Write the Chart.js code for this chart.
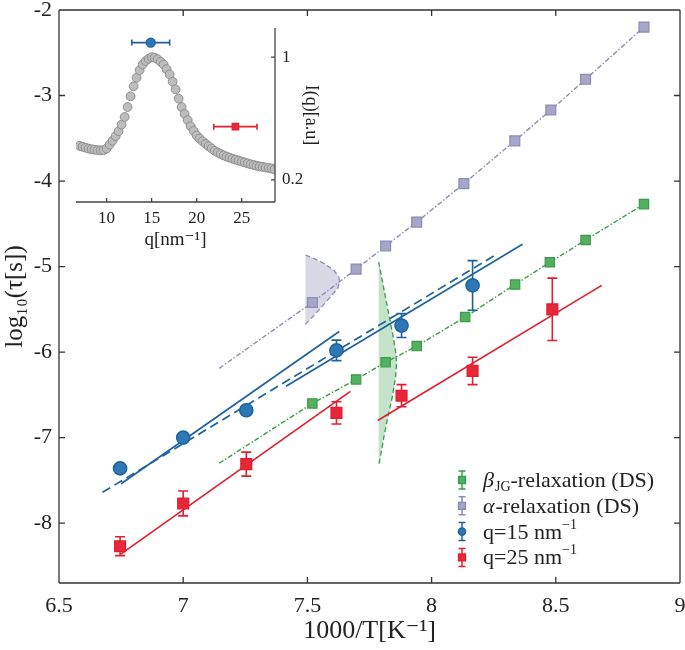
<!DOCTYPE html>
<html>
<head>
<meta charset="utf-8">
<script src="https://cdn.jsdelivr.net/npm/chart.js@4.4.1/dist/chart.umd.min.js"></script>
<style>
  html, body { margin: 0; padding: 0; background: #fff; }
  #wrap { position: relative; width: 685px; height: 650px; }
  #mainChart { position: absolute; left: 0; top: 0; }
  #insetChart { position: absolute; left: 60px; top: 10px; }
</style>
</head>
<body>
<div id="wrap">
  <canvas id="mainChart" width="685" height="650"></canvas>
  <canvas id="insetChart" width="270" height="245"></canvas>
</div>
<script>
// ---- main panel data ----
const xTicks = [6.5, 7, 7.5, 8, 8.5, 9];
const yTicks = [-8, -7, -6, -5, -4, -3, -2];

const q15X = [6.746, 7.0, 7.254, 7.617, 7.879, 8.165];
const q15Y = [-7.36, -7.00, -6.68, -5.98, -5.69, -5.22];
const q15Err = [0, 0, 0, 0.12, 0.14, 0.29];

const q25X = [6.746, 7.0, 7.254, 7.617, 7.879, 8.165, 8.486];
const q25Y = [-8.27, -7.77, -7.31, -6.71, -6.51, -6.22, -5.50];
const q25Err = [0.11, 0.145, 0.14, 0.13, 0.13, 0.16, 0.365];

const alphaX = [7.52, 7.696, 7.815, 7.94, 8.13, 8.335, 8.48, 8.62, 8.855];
const alphaY = [-5.42, -5.03, -4.76, -4.48, -4.03, -3.53, -3.17, -2.81, -2.20];
const betaX = [7.52, 7.696, 7.815, 7.94, 8.135, 8.336, 8.476, 8.62, 8.855];
const betaY = [-6.60, -6.32, -6.12, -5.93, -5.59, -5.21, -4.95, -4.69, -4.27];

// where the dash-dot guides start (below the first DS point)
const alphaGuideX = [7.145, 7.52];
const alphaGuideY = [-6.19, -5.42];
const betaGuideX = [7.145, 7.52];
const betaGuideY = [-7.30, -6.60];

// straight fits
const q15FitAX = [6.75, 7.628], q15FitAY = [-7.54, -5.76];
const q15FitBX = [7.414, 8.366], q15FitBY = [-6.40, -4.74];
const q15DashX = [6.675, 8.265], q15DashY = [-7.64, -4.85];
const q25FitAX = [6.75, 7.673], q25FitAY = [-8.36, -6.46];
const q25FitBX = [7.783, 8.685], q25FitBY = [-6.80, -5.22];

// shaded distributions
const alphaDistX = [7.492, 7.525, 7.566, 7.606, 7.626, 7.630, 7.622, 7.593, 7.552, 7.519, 7.492];
const alphaDistY = [-4.865, -4.904, -4.963, -5.041, -5.119, -5.178, -5.255, -5.353, -5.489, -5.594, -5.676];
const betaDistX = [7.787, 7.801, 7.819, 7.835, 7.848, 7.856, 7.859, 7.855, 7.842, 7.824, 7.808, 7.794, 7.787];
const betaDistY = [-4.944, -5.158, -5.431, -5.665, -5.860, -6.015, -6.132, -6.289, -6.523, -6.757, -6.991, -7.225, -7.322];

// ---- inset data ----
const insetQTicks = [10, 15, 20, 25];
const insetITicks = [0.2, 1];
const insetQ = [7.0, 7.33, 7.66, 8.0, 8.33, 8.66, 9.0, 9.33, 9.66, 10.0, 10.33, 10.66, 11.0, 11.33, 11.66,
  12.0, 12.33, 12.66, 13.0, 13.33, 13.66, 14.0, 14.33, 14.66, 15.0, 15.33, 15.66, 16.0, 16.33, 16.66,
  17.0, 17.33, 17.66, 18.0, 18.33, 18.66, 19.0, 19.33, 19.66, 20.0, 20.33, 20.66, 21.0, 21.33, 21.66,
  22.0, 22.33, 22.66, 23.0, 23.33, 23.66, 24.0, 24.33, 24.66, 25.0, 25.33, 25.66, 26.0, 26.33, 26.66,
  27.0, 27.33, 27.66, 28.0, 28.33, 28.66];
const insetI = [0.422, 0.416, 0.41, 0.404, 0.400, 0.397, 0.394, 0.393, 0.394, 0.405, 0.43, 0.455, 0.485, 0.517, 0.56,
  0.61, 0.675, 0.745, 0.81, 0.865, 0.915, 0.952, 0.975, 0.99, 1.0, 0.997, 0.987, 0.97, 0.952, 0.922,
  0.888, 0.84, 0.79, 0.73, 0.675, 0.63, 0.59, 0.55, 0.52, 0.49, 0.47, 0.452, 0.435, 0.42, 0.405,
  0.39, 0.379, 0.369, 0.36, 0.352, 0.345, 0.338, 0.332, 0.326, 0.32, 0.314, 0.308, 0.302, 0.297, 0.292,
  0.288, 0.285, 0.281, 0.278, 0.274, 0.268];
const insetBlueQ = [14.9], insetBlueI = [1.095], insetBlueErr = [2.1];
const insetRedQ = [24.3], insetRedI = [0.547], insetRedErr = [2.4];

const SERIF = "'Liberation Serif', 'DejaVu Serif', serif";
const BLUE = '#1d62a0', BLUE_FILL = '#2f78b6';
const RED = '#e02030', RED_FILL = '#e8283a';
const GREEN = '#3a9c48', GREEN_FILL = '#52b060';
const PURPLE = '#8c8cb4', PURPLE_FILL = '#a6a6c8';

const pts = (xs, ys) => xs.map((x, i) => ({ x: x, y: ys[i] }));

// error bars, drawn just before their dataset
const errorBars = {
  id: 'errorBars',
  beforeDatasetDraw(chart, args) {
    const ds = chart.data.datasets[args.index];
    if (!ds.errY && !ds.errX) return;
    const { ctx, scales: { x, y } } = chart;
    const cap = ds.errCap || 5;
    ctx.save();
    ctx.strokeStyle = ds.borderColor;
    ctx.lineWidth = 1.6;
    ds.data.forEach((p, j) => {
      const px = x.getPixelForValue(p.x), py = y.getPixelForValue(p.y);
      ctx.beginPath();
      if (ds.errY && ds.errY[j]) {
        const y1 = y.getPixelForValue(p.y + ds.errY[j]);
        const y2 = y.getPixelForValue(p.y - ds.errY[j]);
        ctx.moveTo(px, y1); ctx.lineTo(px, y2);
        ctx.moveTo(px - cap, y1); ctx.lineTo(px + cap, y1);
        ctx.moveTo(px - cap, y2); ctx.lineTo(px + cap, y2);
      }
      if (ds.errX && ds.errX[j]) {
        const x1 = x.getPixelForValue(p.x - ds.errX[j]);
        const x2 = x.getPixelForValue(p.x + ds.errX[j]);
        ctx.moveTo(x1, py); ctx.lineTo(x2, py);
        ctx.moveTo(x1, py - cap); ctx.lineTo(x1, py + cap);
        ctx.moveTo(x2, py - cap); ctx.lineTo(x2, py + cap);
      }
      ctx.stroke();
    });
    ctx.restore();
  }
};

// axis lines with inward tick marks
const frame = {
  id: 'frame',
  afterDatasetsDraw(chart, args, opts) {
    const { ctx, chartArea: a, scales: { x, y } } = chart;
    const len = opts.len;
    ctx.save();
    ctx.strokeStyle = opts.color;
    ctx.lineWidth = opts.width;
    ctx.beginPath();
    opts.sides.forEach(side => {
      if (side === 'bottom' || side === 'top') {
        const yy = side === 'bottom' ? a.bottom : a.top;
        const d = side === 'bottom' ? -len : len;
        ctx.moveTo(a.left, yy); ctx.lineTo(a.right, yy);
        x.ticks.forEach(t => {
          const px = x.getPixelForValue(t.value);
          ctx.moveTo(px, yy); ctx.lineTo(px, yy + d);
        });
      } else {
        const xx = side === 'left' ? a.left : a.right;
        const d = side === 'left' ? len : -len;
        ctx.moveTo(xx, a.top); ctx.lineTo(xx, a.bottom);
        y.ticks.forEach(t => {
          const py = y.getPixelForValue(t.value);
          ctx.moveTo(xx, py); ctx.lineTo(xx + d, py);
        });
      }
    });
    ctx.stroke();
    ctx.restore();
  }
};

// legend with sub/superscripts
const texLegend = {
  id: 'texLegend',
  afterDraw(chart, args, opts) {
    const ctx = chart.ctx;
    ctx.save();
    opts.rows.forEach((row, i) => {
      const y = opts.y0 + i * opts.dy;
      const x = opts.x;
      ctx.strokeStyle = row.stroke;
      ctx.fillStyle = row.fill;
      ctx.lineWidth = 1.5;
      ctx.beginPath();
      ctx.moveTo(x, y - 9); ctx.lineTo(x, y + 9);
      ctx.moveTo(x - 3.5, y - 9); ctx.lineTo(x + 3.5, y - 9);
      ctx.moveTo(x - 3.5, y + 9); ctx.lineTo(x + 3.5, y + 9);
      ctx.stroke();
      ctx.beginPath();
      if (row.shape === 'circle') ctx.arc(x, y, 3.6, 0, Math.PI * 2);
      else ctx.rect(x - 3.4, y - 3.4, 6.8, 6.8);
      ctx.fill();
      ctx.stroke();
      let tx = opts.textX;
      ctx.fillStyle = '#222';
      ctx.textBaseline = 'alphabetic';
      row.parts.forEach(([t, style]) => {
        let size = 22, dy = 7, it = '';
        if (style === 'it') it = 'italic ';
        if (style === 'sub') { size = 14; dy = 11; }
        if (style === 'sup') { size = 14; dy = -3; }
        ctx.font = it + size + 'px ' + SERIF;
        ctx.fillText(t, tx, y + dy);
        tx += ctx.measureText(t).width + (style === 'it' ? 1 : 0);
      });
    });
    ctx.restore();
  }
};

const lineDs = (data, color, width, dash) => ({
  data: data, showLine: true, pointRadius: 0, borderColor: color,
  borderWidth: width, borderDash: dash || [], fill: false
});

new Chart(document.getElementById('mainChart'), {
  type: 'scatter',
  data: {
    datasets: [
      { data: pts(q25X, q25Y), errY: q25Err, errCap: 5, pointStyle: 'rect', pointRadius: 7.6,
        backgroundColor: RED_FILL, borderColor: RED, borderWidth: 1.4 },
      { data: pts(q15X, q15Y), errY: q15Err, errCap: 5, pointStyle: 'circle', pointRadius: 6.6,
        backgroundColor: BLUE_FILL, borderColor: BLUE, borderWidth: 1.5 },
      { data: pts(betaX, betaY), pointStyle: 'rect', pointRadius: 6.6,
        backgroundColor: GREEN_FILL, borderColor: GREEN, borderWidth: 1.2 },
      { data: pts(alphaX, alphaY), pointStyle: 'rect', pointRadius: 7,
        backgroundColor: PURPLE_FILL, borderColor: PURPLE, borderWidth: 1.2 },
      lineDs(pts(q25FitAX, q25FitAY), RED, 1.7),
      lineDs(pts(q25FitBX, q25FitBY), RED, 1.7),
      lineDs(pts(q15FitAX, q15FitAY), BLUE, 1.7),
      lineDs(pts(q15FitBX, q15FitBY), BLUE, 1.7),
      lineDs(pts(q15DashX, q15DashY), BLUE, 1.7, [9, 5]),
      lineDs(pts(betaGuideX.concat(betaX.slice(1)), betaGuideY.concat(betaY.slice(1))), GREEN, 1.4, [5, 2, 1.5, 2]),
      lineDs(pts(alphaGuideX.concat(alphaX.slice(1)), alphaGuideY.concat(alphaY.slice(1))), PURPLE, 1.4, [5, 2, 1.5, 2]),
      lineDs(pts(betaDistX, betaDistY), GREEN, 1.3, [5, 3]),
      lineDs(pts(alphaDistX, alphaDistY), PURPLE, 1.3, [5, 3]),
      { data: pts(betaDistX, betaDistY), showLine: true, pointRadius: 0, borderWidth: 0,
        borderColor: 'rgba(0,0,0,0)', backgroundColor: 'rgba(90,175,105,0.35)', fill: 'shape' },
      { data: pts(alphaDistX, alphaDistY), showLine: true, pointRadius: 0, borderWidth: 0,
        borderColor: 'rgba(0,0,0,0)', backgroundColor: 'rgba(170,170,200,0.45)', fill: 'shape' }
    ]
  },
  options: {
    responsive: false,
    animation: false,
    layout: { autoPadding: false, padding: { top: 10, right: 5, left: 0, bottom: 0 } },
    plugins: {
      legend: { display: false },
      tooltip: { enabled: false },
      frame: { sides: ['bottom', 'top', 'left', 'right'], len: 6, color: '#333', width: 1.3 },
      texLegend: {
        x: 462, y0: 480, dy: 25.8, textX: 483,
        rows: [
          { stroke: GREEN, fill: GREEN_FILL, shape: 'rect', parts: [['β', 'it'], ['JG', 'sub'], ['-relaxation (DS)', '']] },
          { stroke: PURPLE, fill: PURPLE_FILL, shape: 'rect', parts: [['α', 'it'], ['-relaxation (DS)', '']] },
          { stroke: BLUE, fill: BLUE_FILL, shape: 'circle', parts: [['q=15 nm', ''], ['−1', 'sup']] },
          { stroke: RED, fill: RED_FILL, shape: 'rect', parts: [['q=25 nm', ''], ['−1', 'sup']] }
        ]
      }
    },
    scales: {
      x: {
        type: 'linear', min: 6.5, max: 9,
        afterBuildTicks: s => { s.ticks = xTicks.map(v => ({ value: v })); },
        afterFit: s => { s.height = 67; s.paddingLeft = 0; s.paddingRight = 0; },
        grid: { display: false, drawTicks: false },
        border: { display: false },
        ticks: { padding: 10, color: '#222', font: { family: SERIF, size: 22 }, callback: v => String(v) },
        title: { display: true, text: '1000/T[K⁻¹]', color: '#222', font: { family: SERIF, size: 26 }, padding: 3 }
      },
      y: {
        type: 'linear', min: -8.7, max: -2,
        afterBuildTicks: s => { s.ticks = yTicks.map(v => ({ value: v })); },
        afterFit: s => { s.width = 59; s.paddingTop = 0; s.paddingBottom = 0; },
        grid: { display: false, drawTicks: false },
        border: { display: false },
        ticks: { padding: 7, color: '#222', font: { family: SERIF, size: 22 }, callback: v => String(v) },
        title: { display: true, text: 'log₁₀(τ[s])', color: '#222', font: { family: SERIF, size: 25 }, padding: 0 }
      }
    }
  },
  plugins: [errorBars, frame, texLegend]
});

new Chart(document.getElementById('insetChart'), {
  type: 'scatter',
  data: {
    datasets: [
      { data: pts(insetBlueQ, insetBlueI), errX: insetBlueErr, errCap: 3, pointStyle: 'circle', pointRadius: 4.5,
        backgroundColor: BLUE_FILL, borderColor: BLUE, borderWidth: 1.3 },
      { data: pts(insetRedQ, insetRedI), errX: insetRedErr, errCap: 3, pointStyle: 'rect', pointRadius: 4.6,
        backgroundColor: RED_FILL, borderColor: RED, borderWidth: 1.2 },
      { data: pts(insetQ, insetI), pointStyle: 'circle', pointRadius: 4.4,
        backgroundColor: '#bdbdbd', borderColor: '#8e8e8e', borderWidth: 1 }
    ]
  },
  options: {
    responsive: false,
    animation: false,
    layout: { autoPadding: false, padding: { top: 18, right: 0, left: 16, bottom: 0 } },
    plugins: {
      legend: { display: false },
      tooltip: { enabled: false },
      frame: { sides: ['bottom', 'right'], len: 4, color: '#444', width: 1.3 }
    },
    scales: {
      x: {
        type: 'linear', min: 6.6, max: 28.7,
        afterBuildTicks: s => { s.ticks = insetQTicks.map(v => ({ value: v })); },
        afterFit: s => { s.height = 53; s.paddingLeft = 0; s.paddingRight = 0; },
        grid: { display: false, drawTicks: false },
        border: { display: false },
        ticks: { padding: 6, color: '#222', font: { family: SERIF, size: 17 }, callback: v => String(v) },
        title: { display: true, text: 'q[nm⁻¹]', color: '#222', font: { family: SERIF, size: 19 }, padding: 4 }
      },
      y: {
        type: 'linear', position: 'right', min: 0.056, max: 1.19,
        afterBuildTicks: s => { s.ticks = insetITicks.map(v => ({ value: v })); },
        afterFit: s => { s.width = 55; s.paddingTop = 0; s.paddingBottom = 0; },
        grid: { display: false, drawTicks: false },
        border: { display: false },
        ticks: { padding: 7, color: '#222', font: { family: SERIF, size: 17 }, callback: v => String(v) },
        title: { display: true, text: 'I(q)[a.u]', color: '#222', font: { family: SERIF, size: 18 }, padding: 8 }
      }
    }
  },
  plugins: [errorBars, frame]
});
</script>
</body>
</html>
